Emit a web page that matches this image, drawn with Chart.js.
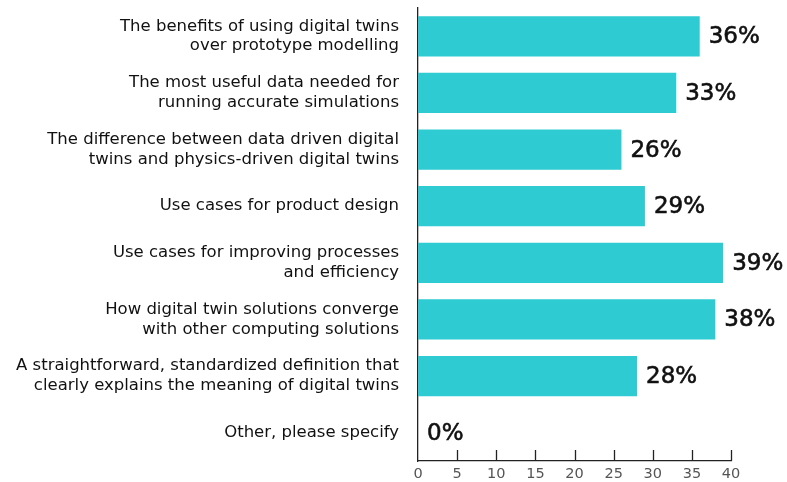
<!DOCTYPE html>
<html>
<head>
<meta charset="utf-8">
<script src="https://cdn.jsdelivr.net/npm/chart.js@4"></script>
<style>
  html, body { margin: 0; padding: 0; background: #fff; }
  #wrap { width: 787px; height: 482px; }
</style>
</head>
<body>
<div id="wrap"><canvas id="c"></canvas></div>
<script>
const categories = [
    ["The benefits of using digital twins", "over prototype modelling"],
    ["The most useful data needed for", "running accurate simulations"],
    ["The difference between data driven digital", "twins and physics-driven digital twins"],
    ["Use cases for product design"],
    ["Use cases for improving processes", "and efficiency"],
    ["How digital twin solutions converge", "with other computing solutions"],
    ["A straightforward, standardized definition that", "clearly explains the meaning of digital twins"],
    ["Other, please specify"],
];
const values = [36, 33, 26, 29, 39, 38, 28, 0];
const xTicks = [0, 5, 10, 15, 20, 25, 30, 35, 40];

const TEAL = "#2ECBD2";
const FONT = "'DejaVu Sans', sans-serif";

// percentage labels at the end of each bar
const valueLabels = {
    id: "valueLabels",
    afterDatasetsDraw(chart) {
        const ctx = chart.ctx;
        const meta = chart.getDatasetMeta(0);
        ctx.save();
        ctx.font = "23px " + FONT;
        ctx.fillStyle = "#111";
        ctx.strokeStyle = "#111";
        ctx.lineWidth = 0.6;
        ctx.textAlign = "left";
        ctx.textBaseline = "middle";
        meta.data.forEach((bar, i) => {
            const t = values[i] + "%";
            ctx.fillText(t, bar.x + 9, bar.y + 1);
            ctx.strokeText(t, bar.x + 9, bar.y + 1);
        });
        ctx.restore();
    },
};

// small tick marks pointing up from the x axis
const innerTicks = {
    id: "innerTicks",
    afterDraw(chart) {
        const ctx = chart.ctx;
        const x = chart.scales.x;
        const bottom = chart.chartArea.bottom;
        ctx.save();
        ctx.strokeStyle = "#222";
        ctx.lineWidth = 1.3;
        xTicks.slice(1).forEach(v => {
            const px = Math.round(x.getPixelForValue(v)) + 0.5;
            ctx.beginPath();
            ctx.moveTo(px, bottom);
            ctx.lineTo(px, bottom - 11);
            ctx.stroke();
        });
        ctx.restore();
    },
};

new Chart(document.getElementById("c"), {
    type: "bar",
    data: {
        labels: categories,
        datasets: [{
            data: values,
            backgroundColor: TEAL,
            barPercentage: 0.71,
            categoryPercentage: 1,
        }],
    },
    options: {
        indexAxis: "y",
        responsive: true,
        maintainAspectRatio: false,
        animation: false,
        layout: { padding: { top: 8, right: 56, bottom: 0, left: 0 } },
        plugins: { legend: { display: false }, tooltip: { enabled: false } },
        scales: {
            x: {
                min: 0,
                max: 40,
                afterBuildTicks: s => { s.ticks = xTicks.map(v => ({ value: v })); },
                grid: { display: false, drawTicks: false },
                border: { display: true, color: "#222", width: 1.3 },
                ticks: { color: "#555", padding: 5, font: { family: FONT, size: 14.5 } },
                afterFit: s => { s.height = 21; s.paddingLeft = 0; s.paddingRight = 0; },
            },
            y: {
                grid: { display: false, drawTicks: false },
                border: { display: true, color: "#222", width: 1.3 },
                ticks: {
                    color: "#111",
                    padding: 19,
                    font: { family: FONT, size: 16.5, lineHeight: 1.2 },
                },
                afterFit: s => { s.width = 418; s.paddingTop = 0; s.paddingBottom = 0; },
            },
        },
    },
    plugins: [valueLabels, innerTicks],
});
</script>
</body>
</html>
